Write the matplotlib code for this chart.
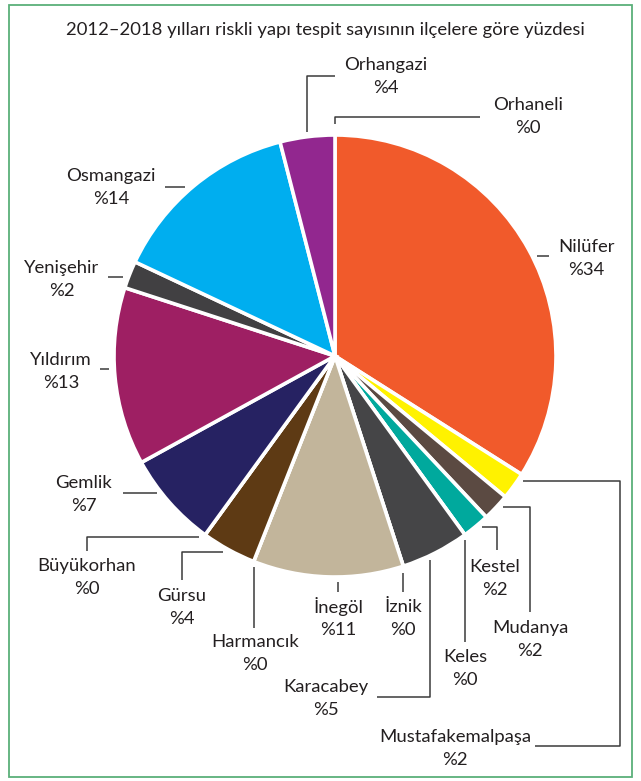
import matplotlib
matplotlib.use('Agg')
import matplotlib.pyplot as plt
from matplotlib.patches import Rectangle

plt.rcParams['font.family'] = ['Lato', 'DejaVu Sans']

# districts in clockwise order from 12 o'clock
districts = ['Orhaneli', 'Nilüfer', 'Mustafakemalpaşa', 'Mudanya', 'Kestel',
             'Keles', 'Karacabey', 'İznik', 'İnegöl', 'Harmancık', 'Gürsu',
             'Büyükorhan', 'Gemlik', 'Yıldırım', 'Yenişehir', 'Osmangazi',
             'Orhangazi']
shares = [0, 34, 2, 2, 2, 0, 5, 0, 11, 0, 4, 0, 7, 13, 2, 14, 4]
colors = ['#FFFFFF', '#F15A2B', '#FFF200', '#5B4A42', '#00A99D', '#FFFFFF',
          '#454547', '#FFFFFF', '#C2B59B', '#FFFFFF', '#5E3A14', '#FFFFFF',
          '#262262', '#9E1F63', '#414042', '#00AEEF', '#92278F']
title = '2012–2018 yılları riskli yapı tespit sayısının ilçelere göre yüzdesi'

# label layout (pixel coords): text centre, leader polyline
layout = {
    'Orhaneli':         ((528, 105), [(335, 124), (335, 117), (480, 117)]),
    'Nilüfer':          ((586, 247), [(537, 256), (549, 256)]),
    'Mustafakemalpaşa': ((455, 737), [(523, 481), (620, 481), (620, 746), (535, 746)]),
    'Mudanya':          ((530, 628), [(503, 507), (530, 507), (530, 612)]),
    'Kestel':           ((495, 567), [(482, 527), (497, 527), (497, 550)]),
    'Keles':            ((465, 657), [(465, 540), (465, 642)]),
    'Karacabey':        ((326, 687), [(430, 560), (430, 697), (377, 697)]),
    'İznik':            ((403, 607), [(403, 573), (403, 592)]),
    'İnegöl':           ((338, 607), [(338, 582), (338, 592)]),
    'Harmancık':        ((255, 642), [(254, 567), (254, 628)]),
    'Gürsu':            ((182, 596), [(223, 552), (182, 552), (182, 580)]),
    'Büyükorhan':       ((87, 566), [(199, 537), (87, 537), (87, 551)]),
    'Gemlik':           ((84, 483), [(123, 493), (157, 493)]),
    'Yıldırım':         ((61, 360), [(100, 369), (109, 369)]),
    'Yenişehir':        ((62, 268), [(108, 277), (123, 277)]),
    'Osmangazi':        ((111, 176), [(165, 187), (185, 187)]),
    'Orhangazi':        ((386, 65), [(307, 132), (307, 76), (335, 76)]),
}

W, H = 641, 781
fig = plt.figure(figsize=(W / 100, H / 100), dpi=100)
ax = fig.add_axes([0, 0, 1, 1])

# y axis runs downwards, so counterclock in data space is clockwise on screen
ax.pie(shares, colors=colors, startangle=270, counterclock=True,
       center=(335, 356), radius=221, frame=True,
       wedgeprops=dict(edgecolor='white', linewidth=2.6))

ax.set_xlim(0, W)
ax.set_ylim(H, 0)
ax.set_aspect('equal')
ax.axis('off')

txt = '#231F20'
fs = 13.3
ax.text(325, 30, title, ha='center', va='center', fontsize=fs, color=txt)

for name, val in zip(districts, shares):
    (tx, ty), path = layout[name]
    xs = [p[0] for p in path]
    ys = [p[1] for p in path]
    ax.plot(xs, ys, color='#3A3A3A', lw=1.1, solid_capstyle='butt')
    ax.text(tx, ty, name, ha='center', va='center', fontsize=fs, color=txt)
    ax.text(tx, ty + 23, '%' + str(val), ha='center', va='center',
            fontsize=fs, color=txt)

# green frame round the figure
ax.add_patch(Rectangle((9, 5), 623, 772, fill=False, edgecolor='#5BB07A', lw=1.3))

fig.savefig('out.png', dpi=100)
